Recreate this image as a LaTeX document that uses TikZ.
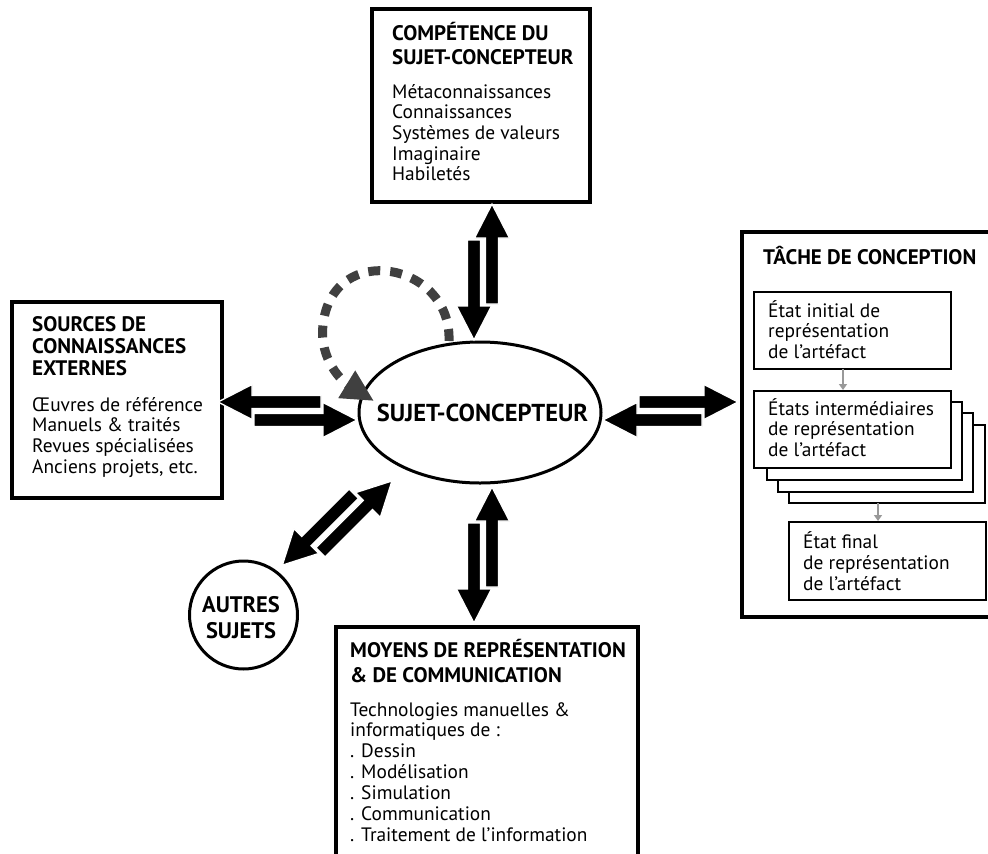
\documentclass[tikz,border=0pt]{standalone}
\usepackage{fontspec}
\setmainfont{PT Sans}
\usetikzlibrary{arrows.meta,shapes.geometric}
\newcommand\pairarrows[5]{% #1 x, #2 y, #3 angle, #4 length, #5 sign
\begin{scope}[shift={(#1,#2)}, rotate=#3]
 \pgfmathsetmacro\arrO{(#5)*9}
 \pgfmathsetmacro\arrI{-1*(#5)*9}
 \def\arrL{#4}
 \filldraw[dblarrow] (36,{\arrO-6.5}) -- ({\arrL-34},{\arrO-6.5}) -- ({\arrL-34},{\arrO-17.5}) -- (\arrL,\arrO) -- ({\arrL-34},{\arrO+17.5}) -- ({\arrL-34},{\arrO+6.5}) -- (36,{\arrO+6.5}) -- cycle;
 \filldraw[dblarrow] (0,\arrI) -- (34,{\arrI-17.5}) -- (34,{\arrI-6.5}) -- ({\arrL-36},{\arrI-6.5}) -- ({\arrL-36},{\arrI+6.5}) -- (34,{\arrI+6.5}) -- (34,{\arrI+17.5}) -- cycle;
\end{scope}}
\begin{document}
\begin{tikzpicture}[x=1pt,y=1pt,
  bigbox/.style={draw=black, line width=3.5pt, inner sep=0pt, outer sep=0pt, anchor=north west},
  smallbox/.style={draw=black, line width=1.8pt, fill=white, inner sep=0pt, outer sep=0pt, anchor=north west},
  ttl/.style={anchor=base west, inner sep=0pt, font=\fontsize{21}{24}\selectfont\bfseries},
  bdy/.style={anchor=base west, inner sep=0pt, font=\fontsize{19.4}{21}\selectfont},
  dblarrow/.style={fill=black, draw=white, line width=1.3pt},
  grayarrow/.style={draw=black!40, line width=2pt, -{Triangle[length=6pt,width=8pt]}},
  loop/.style={draw=black!75, line width=9pt, dash pattern=on 12pt off 10pt, -{Triangle[length=32pt,width=30pt]}}]
\useasboundingbox (0,0) rectangle (988,-854);
\fill[white] (0,0) rectangle (988,-854);

% top box
\node[bigbox, minimum width=218pt, minimum height=193pt] (topbox) at (372,-9) {};
\node[ttl] (top-t1) at (392,-40) {COMPÉTENCE DU};
\node[ttl] (top-t2) at (392,-64) {SUJET-CONCEPTEUR};
\foreach \t [count=\i from 0] in {Métaconnaissances,Connaissances,Systèmes de valeurs,Imaginaire,Habiletés}
  \node[bdy] (top-b\i) at (392,{-98-20.7*\i}) {\t};

% left box
\node[bigbox, minimum width=210pt, minimum height=196pt] (leftbox) at (12,-302) {};
\node[ttl] (left-t1) at (32,-331) {SOURCES DE};
\node[ttl] (left-t2) at (32,-353) {CONNAISSANCES};
\node[ttl] (left-t3) at (32,-375) {EXTERNES};
\foreach \t [count=\i from 0] in {Œuvres de référence,Manuels \& traités,Revues spécialisées,{Anciens projets, etc.}}
  \node[bdy] (left-b\i) at (32,{-411-20.7*\i}) {\t};

% right box
\node[bigbox, minimum width=250pt, minimum height=385pt] (rightbox) at (742,-232) {};
\node[ttl] (right-t) at (763,-264) {TÂCHE DE CONCEPTION};
\node[smallbox, minimum width=197pt, minimum height=77pt] (b1) at (754,-292) {};
\foreach \t [count=\i from 0] in {État initial de,représentation,de l’artéfact}
  \node[bdy] (b1-\i) at (768,{-317-20.5*\i}) {\t};
\node[smallbox, minimum width=196pt, minimum height=78pt] (card3) at (789,-425) {};
\node[smallbox, minimum width=195pt, minimum height=79pt] (card2) at (778,-413) {};
\node[smallbox, minimum width=195pt, minimum height=78pt] (card1) at (767,-402) {};
\node[smallbox, minimum width=197pt, minimum height=77pt] (front) at (754,-391) {};
\foreach \t [count=\i from 0] in {États intermédiaires,de représentation,de l’artéfact}
  \node[bdy] (b2-\i) at (768,{-415-20.5*\i}) {\t};
\node[smallbox, minimum width=197pt, minimum height=78pt] (final) at (789,-522) {};
\foreach \t [count=\i from 0] in {État final,de représentation,de l’artéfact}
  \node[bdy] (b3-\i) at (803,{-548-21*\i}) {\t};
\coordinate (g1) at (843,0);
\coordinate (g2) at (878,0);
\draw[grayarrow] (g1 |- b1.south) -- ([yshift=1pt]g1 |- front.north);
\draw[grayarrow] (g2 |- card3.south) -- ([yshift=1pt]g2 |- final.north);

% bottom box
\node[bigbox, minimum width=302pt, minimum height=250pt] (botbox) at (336,-627) {};
\node[ttl] (bot-t1) at (350,-657) {MOYENS DE REPRÉSENTATION};
\node[ttl] (bot-t2) at (350,-682) {\& DE COMMUNICATION};
\foreach \t [count=\i from 0] in {Technologies manuelles \&,informatiques de :,. Dessin,. Modélisation,. Simulation,. Communication,. Traitement de l’information}
  \node[bdy] (bot-b\i) at (350,{-716-20.9*\i}) {\t};

% central ellipse
\node[draw, ellipse, line width=3pt, minimum width=242pt, minimum height=141pt, inner sep=0pt] (ell) at (480,-412.5) {};
\node[anchor=base, inner sep=0pt, font=\fontsize{24.5}{28}\selectfont\bfseries] (ell-t) at (482.5,-421.7) {SUJET-CONCEPTEUR};

% autres sujets
\node[draw, circle, line width=3pt, minimum size=108pt, inner sep=0pt] (autres) at (243.5,-615) {};
\node[anchor=base, inner sep=0pt, font=\fontsize{22.5}{26}\selectfont\bfseries] (autres-t1) at (241,-612) {AUTRES};
\node[anchor=base, inner sep=0pt, font=\fontsize{22.5}{26}\selectfont\bfseries] (autres-t2) at (241,-638) {SUJETS};

% double arrows
\pairarrows{483}{-340}{90}{136}{-1}
\pairarrows{603}{-411}{0}{135}{1}
\pairarrows{357}{-411}{180}{139}{-1}
\pairarrows{483}{-487}{-90}{136}{-1}
\pairarrows{385.6}{-474.6}{-135}{137}{-1}

% dashed loop
\coordinate (loopS) at (449,-341);
\coordinate (loopE) at (374,-401);
\draw[loop] (loopS) .. controls (452,-262) and (332,-240) .. (323,-325) .. controls (319,-360) and (343,-382) .. (loopE);
\end{tikzpicture}
\end{document}
